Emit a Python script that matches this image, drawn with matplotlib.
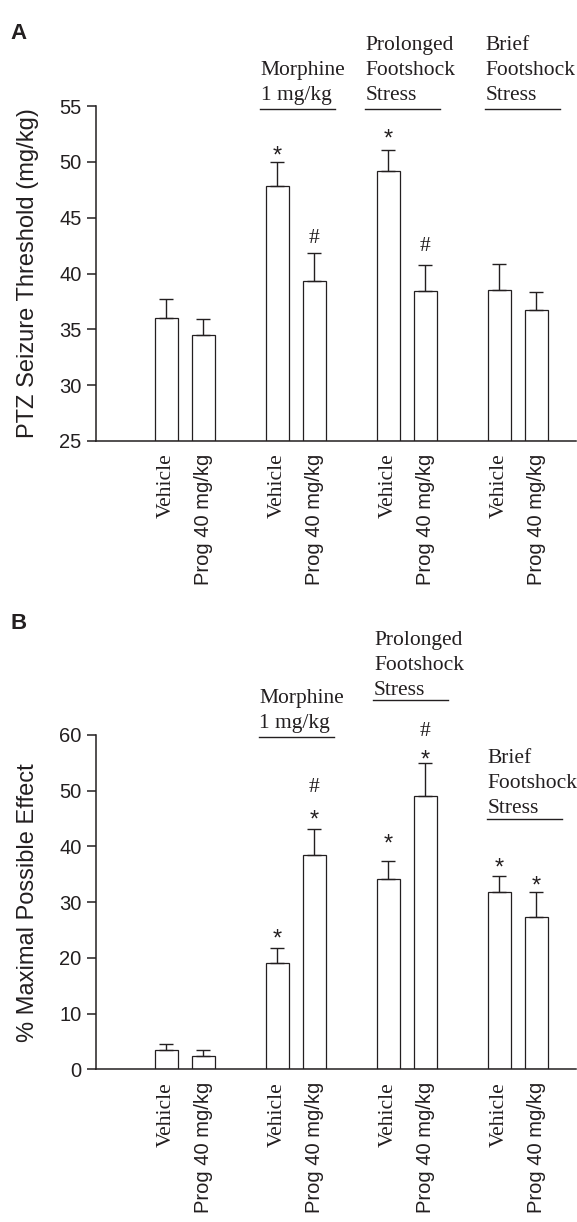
import matplotlib.pyplot as plt
import numpy as np

# groups and treatments
treatments = ['Vehicle', 'Prog 40 mg/kg']
group_text = [['Morphine', '1 mg/kg'],
              ['Prolonged', 'Footshock', 'Stress'],
              ['Brief', 'Footshock', 'Stress']]

# panel A: PTZ seizure threshold (mg/kg)
thresh_mean = [36.0, 34.45, 47.8, 39.35, 49.15, 38.4, 38.5, 36.7]
thresh_sem = [1.7, 1.5, 2.2, 2.45, 1.9, 2.4, 2.35, 1.6]
thresh_marks = [(2, '*'), (3, '#'), (4, '*'), (5, '#')]

# panel B: % maximal possible effect
mpe_mean = [3.4, 2.3, 19.0, 38.4, 34.2, 49.1, 31.9, 27.4]
mpe_sem = [1.1, 1.1, 2.7, 4.8, 3.2, 5.9, 2.8, 4.5]
mpe_marks = [(2, '*'), (3, '*'), (3, '#'), (4, '*'), (5, '*'), (5, '#'), (6, '*'), (7, '*')]

ink = '#231f20'
serif = 'Liberation Serif'
sans = 'Liberation Sans'
plt.rcParams['font.family'] = sans

# bar positions: 2 bars per group, 3 units per group
xpos = np.array([g * 3 + k for g in range(4) for k in range(2)], dtype=float)

fig = plt.figure(figsize=(5.77, 12.22), dpi=100)
W, H = 577, 1222
axA = fig.add_axes([96 / W, 1 - 441 / H, 480 / W, 335 / H])
axB = fig.add_axes([96 / W, 1 - 1069.3 / H, 480 / W, 334.3 / H])


def draw_panel(ax, means, sems, ylim, yticks, ylabel):
    base = ylim[0]
    ax.bar(xpos, np.array(means) - base, width=0.6, bottom=base,
           color='white', edgecolor=ink, linewidth=0.9, zorder=2)
    ax.errorbar(xpos, means, yerr=[np.zeros(len(sems)), sems], fmt='none',
                ecolor=ink, elinewidth=1.0, capsize=5, capthick=1.0, zorder=3)
    ax.set_xlim(-1.905, 11.07)
    ax.set_ylim(*ylim)
    ax.set_yticks(yticks)
    ax.spines[['top', 'right']].set_visible(False)
    for s in ['left', 'bottom']:
        ax.spines[s].set_color(ink)
        ax.spines[s].set_linewidth(1.1)
    ax.tick_params(axis='y', length=6.5, width=1.1, color=ink, labelcolor=ink,
                   labelsize=14.5, pad=4)
    ax.set_xticks(xpos)
    ax.set_xticklabels(treatments * 4, rotation=90)
    ax.tick_params(axis='x', length=0, pad=9, labelcolor=ink)
    for lab in ax.get_xticklabels():
        if lab.get_text() == 'Vehicle':
            lab.set_fontfamily(serif)
            lab.set_fontsize(15.5)
        else:
            lab.set_fontfamily(sans)
            lab.set_fontsize(14.5)
    ax.set_ylabel(ylabel, fontsize=17, color=ink)
    ax.yaxis.set_label_coords(-(96 - 39) / 480, 0.5)


def add_groups(ax, layout, spacing):
    for lines, (tx, base, ly, lx0, lx1) in zip(group_text, layout):
        n = len(lines)
        for i, t in enumerate(lines):
            ax.text(tx, base + (n - 1 - i) * spacing, t, ha='left', va='baseline',
                    fontfamily=serif, fontsize=15.5, color=ink, clip_on=False)
        ax.plot([lx0, lx1], [ly, ly], color=ink, lw=1.0, clip_on=False)


def add_marks(ax, marks, heights):
    for (i, sym), y in zip(marks, heights):
        fam = sans if sym == '*' else serif
        ax.text(xpos[i], y, sym, ha='center', va='baseline', fontfamily=fam,
                fontsize=17 if sym == '*' else 15.5, color=ink, clip_on=False)


draw_panel(axA, thresh_mean, thresh_sem, (25, 55), np.arange(25, 56, 5),
           'PTZ Seizure Threshold (mg/kg)')
add_groups(axA, [(2.55, 55.54, 54.73, 2.53, 4.55),
                 (5.39, 55.54, 54.73, 5.36, 7.39),
                 (8.63, 55.54, 54.73, 8.61, 10.64)], 2.246)
add_marks(axA, thresh_marks, [49.97, 42.75, 51.47, 42.0])

draw_panel(axB, mpe_mean, mpe_sem, (0, 60), np.arange(0, 61, 10),
           '% Maximal Possible Effect')
add_groups(axB, [(2.51, 61.27, 59.6, 2.50, 4.53),
                 (5.61, 67.2, 66.3, 5.58, 7.61),
                 (8.68, 46.07, 45.0, 8.66, 10.69)], 4.49)
add_marks(axB, mpe_marks, [22.3, 43.5, 49.7, 39.3, 54.3, 59.9, 34.9, 31.7])

fig.text(10 / W, 1 - 39 / H, 'A', fontsize=16, fontweight='bold', color=ink)
fig.text(10 / W, 1 - 629 / H, 'B', fontsize=16, fontweight='bold', color=ink)

fig.savefig('out.png', dpi=100)
